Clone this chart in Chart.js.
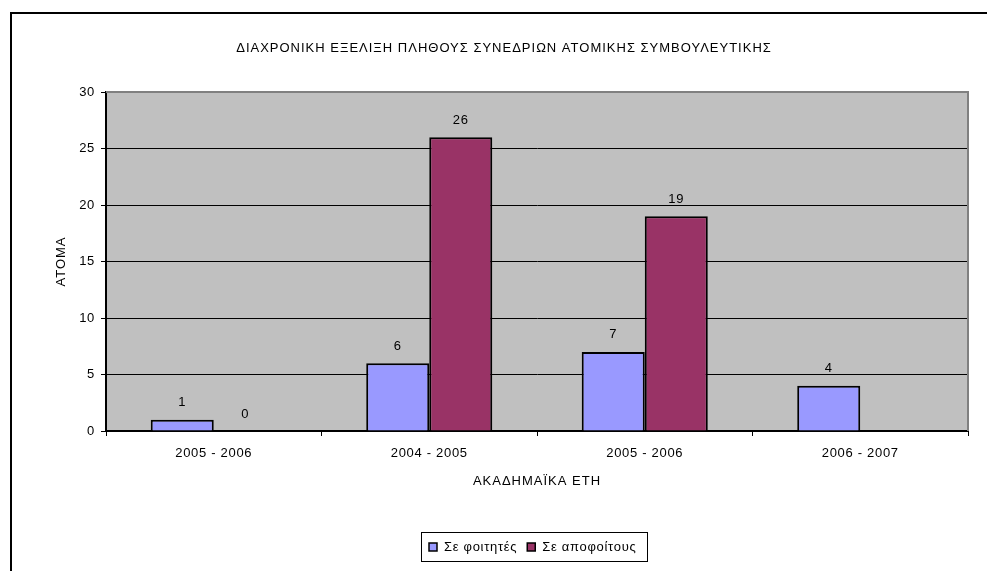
<!DOCTYPE html>
<html><head><meta charset="utf-8">
<script src="https://cdn.jsdelivr.net/npm/chart.js@4/dist/chart.umd.min.js"></script>
<style>html,body{margin:0;padding:0;background:#fff}#wrap{width:987px;height:571px}</style>
</head><body><div id="wrap"><canvas id="c" width="987" height="571"></canvas></div>
<script>
const categories = ["2005 - 2006", "2004 - 2005", "2005 - 2006", "2006 - 2007"];
const students = [1, 6, 7, 4];
const graduates = [0, 26, 19, null];
const seriesNames = ["Σε φοιτητές", "Σε αποφοίτους"];
const seriesColors = ["#9999FF", "#993366"];
const yMin = 0, yMax = 30, yStep = 5;
const chartTitle = "ΔΙΑΧΡΟΝΙΚΗ ΕΞΕΛΙΞΗ ΠΛΗΘΟΥΣ ΣΥΝΕΔΡΙΩΝ ΑΤΟΜΙΚΗΣ ΣΥΜΒΟΥΛΕΥΤΙΚΗΣ";
const xTitle = "ΑΚΑΔΗΜΑΪΚΑ ΕΤΗ";
const yTitle = "ΑΤΟΜΑ";

const FONT = "Arial, 'Liberation Sans', sans-serif";
const FSIZE = 13;
const SPACING = '0.7px';
const TITLE_SPACING = '1px';

const decor = {
  id: 'decor',
  beforeDraw(chart) {
    const ctx = chart.ctx, a = chart.chartArea;
    ctx.letterSpacing = SPACING;
    ctx.save();
    ctx.fillStyle = '#fff';
    ctx.fillRect(0, 0, chart.width, chart.height);
    ctx.fillStyle = '#C0C0C0';
    ctx.fillRect(a.left, a.top, a.right - a.left, a.bottom - a.top);
    ctx.restore();
  },
  afterDraw(chart) {
    const ctx = chart.ctx, a = chart.chartArea;
    ctx.save();
    // plot border top/right gray
    ctx.strokeStyle = '#808080';
    ctx.lineWidth = 2;
    ctx.beginPath();
    ctx.moveTo(a.left, a.top); ctx.lineTo(a.right, a.top); ctx.lineTo(a.right, a.bottom);
    ctx.stroke();
    // outer chart border
    ctx.strokeStyle = '#000';
    ctx.lineWidth = 2;
    ctx.beginPath();
    ctx.moveTo(11, chart.height + 5); ctx.lineTo(11, 13); ctx.lineTo(chart.width + 5, 13);
    ctx.stroke();
    // title
    ctx.fillStyle = '#000';
    ctx.textAlign = 'center';
    ctx.textBaseline = 'middle';
    ctx.font = FSIZE + 'px ' + FONT;
    ctx.letterSpacing = TITLE_SPACING;
    ctx.fillText(chartTitle, 504, 48);
    // axis titles
    ctx.fillText(xTitle, (a.left + a.right) / 2, 481);
    ctx.save();
    ctx.translate(61, (a.top + a.bottom) / 2);
    ctx.rotate(-Math.PI / 2);
    ctx.fillText(yTitle, 0, 0);
    ctx.restore();
    ctx.letterSpacing = SPACING;
    // data labels
    chart.data.datasets.forEach((ds, di) => {
      const meta = chart.getDatasetMeta(di);
      meta.data.forEach((bar, i) => {
        const v = ds.data[i];
        if (v === null || v === undefined) return;
        ctx.fillText(String(v), bar.x, bar.y - 17);
      });
    });
    // legend
    const lx = 421, ly = 532, lw = 226, lh = 29;
    ctx.fillStyle = '#fff';
    ctx.fillRect(lx, ly, lw, lh);
    ctx.strokeStyle = '#000';
    ctx.lineWidth = 1;
    ctx.strokeRect(lx + 0.5, ly + 0.5, lw, lh);
    ctx.textAlign = 'left';
    const cy = ly + lh / 2 + 0.5;
    let x = lx + 8;
    seriesNames.forEach((n, i) => {
      ctx.fillStyle = seriesColors[i];
      ctx.fillRect(x, cy - 4, 8, 8);
      ctx.strokeStyle = '#000';
      ctx.lineWidth = 1.5;
      ctx.strokeRect(x, cy - 4, 8, 8);
      ctx.fillStyle = '#000';
      ctx.fillText(n, x + 15, cy);
      x += 15 + ctx.measureText(n).width + 10;
    });
    ctx.restore();
  }
};

new Chart(document.getElementById('c'), {
  type: 'bar',
  data: {
    labels: categories,
    datasets: [
      { label: seriesNames[0], data: students, backgroundColor: seriesColors[0], borderColor: '#000', borderWidth: 2 },
      { label: seriesNames[1], data: graduates, backgroundColor: seriesColors[1], borderColor: '#000', borderWidth: 2 }
    ]
  },
  options: {
    responsive: false,
    animation: false,
    devicePixelRatio: 1,
    layout: { padding: { top: 92, right: 19, left: 0, bottom: 0 } },
    datasets: { bar: { categoryPercentage: 0.585, barPercentage: 1 } },
    plugins: { legend: { display: false }, title: { display: false }, tooltip: { enabled: false } },
    scales: {
      x: {
        grid: { offset: true, drawOnChartArea: false, tickLength: 5, tickColor: '#000', lineWidth: 1 },
        border: { color: '#000', width: 2 },
        ticks: { color: '#000', font: { family: FONT, size: FSIZE }, padding: 10, maxRotation: 0 },
        afterFit(s) { s.height = 140; }
      },
      y: {
        min: yMin, max: yMax,
        ticks: { stepSize: yStep, color: '#000', font: { family: FONT, size: FSIZE }, padding: 6 },
        grid: {
          color: c => (c.tick && c.tick.value === yMax) ? 'rgba(0,0,0,0)' : '#000',
          tickColor: '#000', tickLength: 5, lineWidth: 1
        },
        border: { color: '#000', width: 2 },
        afterFit(s) { s.width = 106; }
      }
    }
  },
  plugins: [decor]
});
</script>
</body></html>
